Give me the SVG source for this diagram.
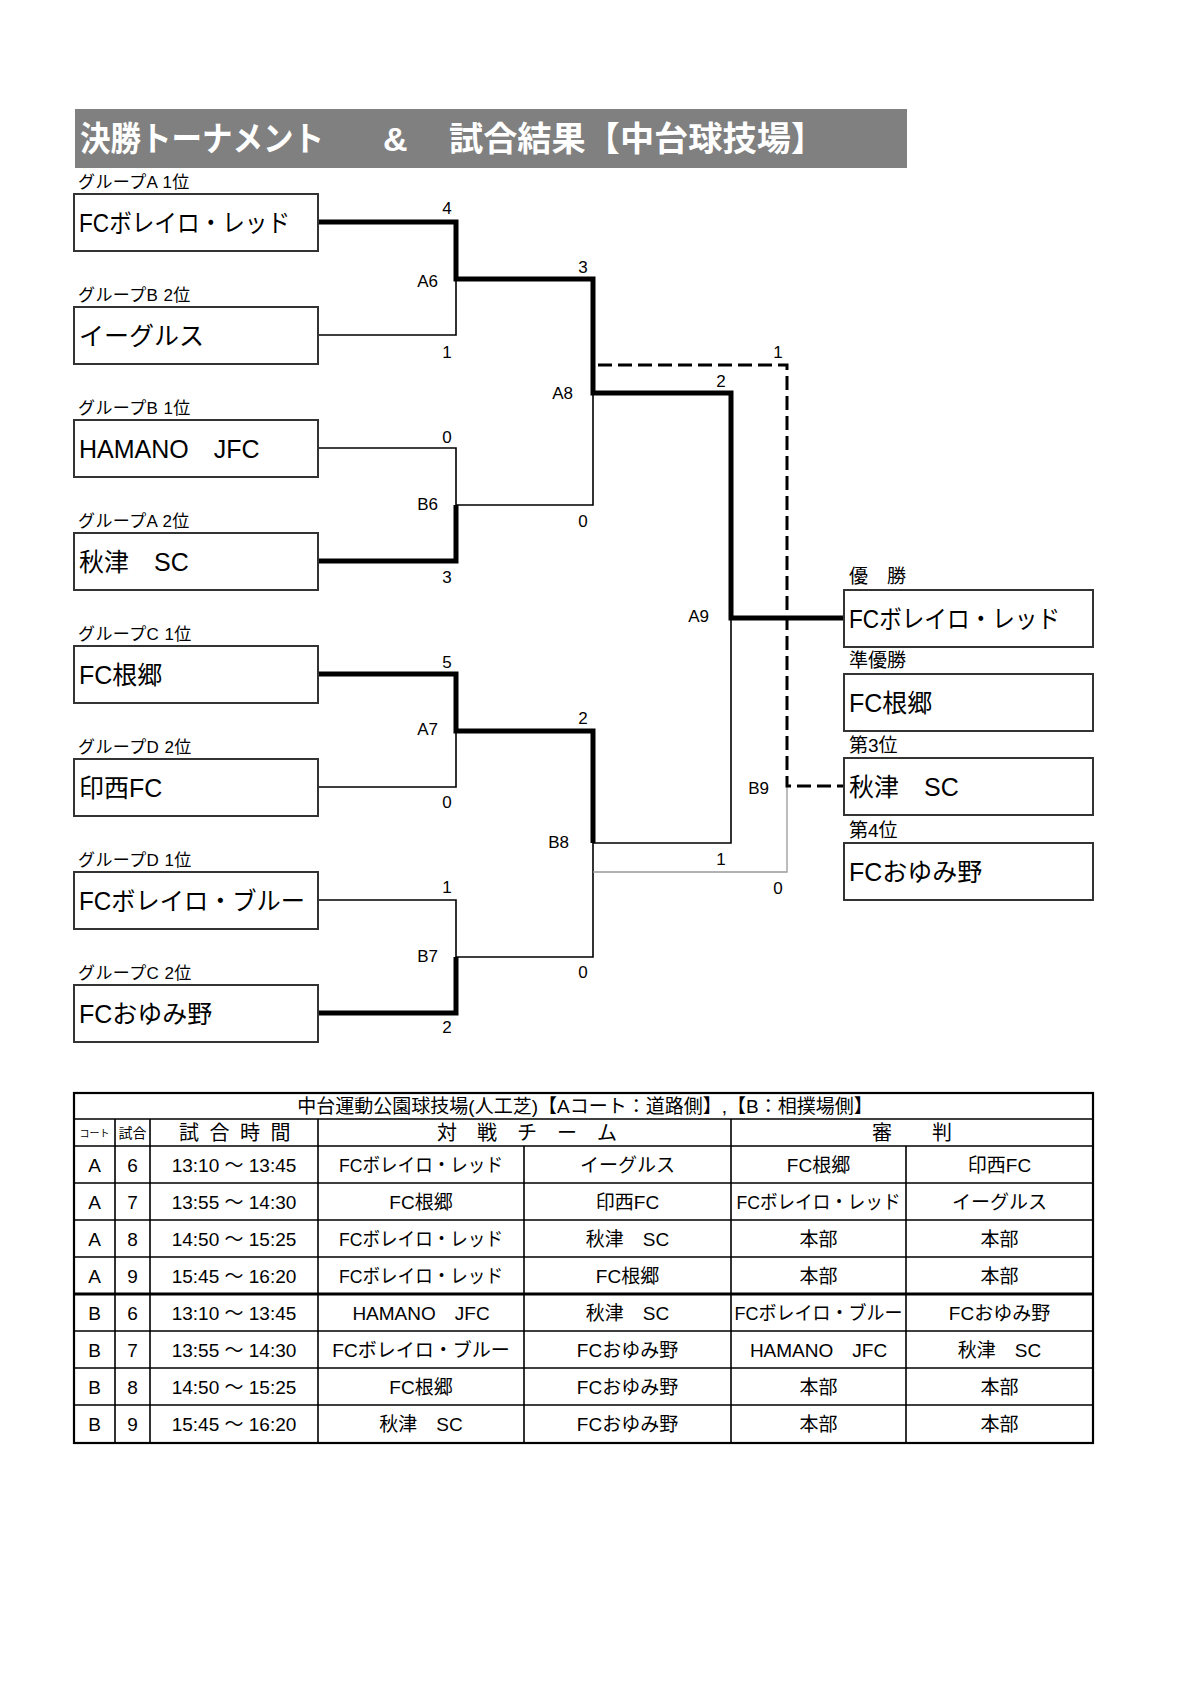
<svg xmlns="http://www.w3.org/2000/svg" width="1191" height="1684" viewBox="0 0 1191 1684">
<style>
text{font-family:"Liberation Sans","Noto Sans CJK JP",sans-serif;fill:#000}
.title{font-size:34px;font-weight:bold;fill:#fff}
.box{fill:#fff;stroke:#333;stroke-width:2}
.grp{font-size:17px;letter-spacing:0.4px}
.team{font-size:25px}
.place{font-size:19px}
.sc{font-size:17px;text-anchor:middle}
.rd{font-size:17px;text-anchor:end}
.thick{stroke:#000;stroke-width:5;fill:none;stroke-linejoin:miter}
.thin{stroke:#000;stroke-width:1.6;fill:none}
.gray{stroke:#999;stroke-width:1.3;fill:none}
.dash{stroke:#000;stroke-width:3;stroke-dasharray:14 6;fill:none}
.cell{font-size:19px;text-anchor:middle}
.tl{stroke:#000;stroke-width:1.6;fill:none}
.tb{stroke:#000;stroke-width:2.2;fill:none}
</style>
<rect width="1191" height="1684" fill="#fff"/>
<g id="title">
<rect x="75" y="109" width="832" height="59" fill="#808080"/>
<text class="title" y="151"><tspan x="80" textLength="244" lengthAdjust="spacingAndGlyphs">決勝トーナメント</tspan> <tspan x="383">&amp;</tspan> <tspan x="449" textLength="376" lengthAdjust="spacingAndGlyphs">試合結果【中台球技場】</tspan></text>
</g>

<g id="connectors">
<path class="thin" d="M318 335H456V279"/>
<path class="thin" d="M318 448H456V505"/>
<path class="thin" d="M318 787H456V731"/>
<path class="thin" d="M318 900H456V957"/>
<path class="thin" d="M456 505H593V393"/>
<path class="thin" d="M456 957H593V843"/>
<path class="thin" d="M593 843H731V618"/>
<path class="gray" d="M593 872H787V786"/>
<path class="thick" d="M318 222H456V279H593V393H731V618H844"/>
<path class="thick" d="M318 561H456V505"/>
<path class="thick" d="M318 674H456V731H593V843"/>
<path class="thick" d="M318 1013H456V957"/>
<path class="dash" d="M598 365H787V786H844"/>
</g>

<g id="scores">
<text class="sc" x="447" y="214">4</text>
<text class="sc" x="447" y="358">1</text>
<text class="rd" x="438" y="287">A6</text>
<text class="sc" x="447" y="443">0</text>
<text class="rd" x="438" y="510">B6</text>
<text class="sc" x="447" y="583">3</text>
<text class="sc" x="447" y="668">5</text>
<text class="rd" x="438" y="735">A7</text>
<text class="sc" x="447" y="808">0</text>
<text class="sc" x="447" y="893">1</text>
<text class="rd" x="438" y="962">B7</text>
<text class="sc" x="447" y="1033">2</text>
<text class="sc" x="583" y="273">3</text>
<text class="rd" x="573" y="399">A8</text>
<text class="sc" x="583" y="527">0</text>
<text class="sc" x="583" y="724">2</text>
<text class="rd" x="569" y="848">B8</text>
<text class="sc" x="583" y="978">0</text>
<text class="sc" x="721" y="387">2</text>
<text class="rd" x="709" y="622">A9</text>
<text class="sc" x="721" y="865">1</text>
<text class="sc" x="778" y="358">1</text>
<text class="rd" x="769" y="794">B9</text>
<text class="sc" x="778" y="894">0</text>
</g>

<g id="team1"><text class="grp" x="78" y="188">グループA 1位</text><rect class="box" x="74" y="194" width="244" height="57"/><text class="team" x="79" y="232" textLength="211" lengthAdjust="spacingAndGlyphs">FCボレイロ・レッド</text></g>
<g id="team2"><text class="grp" x="78" y="301">グループB 2位</text><rect class="box" x="74" y="307" width="244" height="57"/><text class="team" x="79" y="345">イーグルス</text></g>
<g id="team3"><text class="grp" x="78" y="414">グループB 1位</text><rect class="box" x="74" y="420" width="244" height="57"/><text class="team" x="79" y="458">HAMANO　JFC</text></g>
<g id="team4"><text class="grp" x="78" y="527">グループA 2位</text><rect class="box" x="74" y="533" width="244" height="57"/><text class="team" x="79" y="571">秋津　SC</text></g>
<g id="team5"><text class="grp" x="78" y="640">グループC 1位</text><rect class="box" x="74" y="646" width="244" height="57"/><text class="team" x="79" y="684">FC根郷</text></g>
<g id="team6"><text class="grp" x="78" y="753">グループD 2位</text><rect class="box" x="74" y="759" width="244" height="57"/><text class="team" x="79" y="797">印西FC</text></g>
<g id="team7"><text class="grp" x="78" y="866">グループD 1位</text><rect class="box" x="74" y="872" width="244" height="57"/><text class="team" x="79" y="910" textLength="226" lengthAdjust="spacingAndGlyphs">FCボレイロ・ブルー</text></g>
<g id="team8"><text class="grp" x="78" y="979">グループC 2位</text><rect class="box" x="74" y="985" width="244" height="57"/><text class="team" x="79" y="1023">FCおゆみ野</text></g>

<g id="place1"><text class="place" x="849" y="583">優　勝</text><rect class="box" x="844" y="590" width="249" height="57"/><text class="team" x="849" y="628" textLength="211" lengthAdjust="spacingAndGlyphs">FCボレイロ・レッド</text></g>
<g id="place2"><text class="place" x="849" y="667">準優勝</text><rect class="box" x="844" y="674" width="249" height="57"/><text class="team" x="849" y="712">FC根郷</text></g>
<g id="place3"><text class="place" x="849" y="752">第3位</text><rect class="box" x="844" y="758" width="249" height="57"/><text class="team" x="849" y="796">秋津　SC</text></g>
<g id="place4"><text class="place" x="849" y="837">第4位</text><rect class="box" x="844" y="843" width="249" height="57"/><text class="team" x="849" y="881">FCおゆみ野</text></g>

<g id="table">
<rect class="tb" x="74" y="1093" width="1019" height="350" fill="#fff"/>
<path class="tl" d="M74 1119H1093M74 1146H1093M74 1183H1093M74 1220H1093M74 1257H1093M74 1331H1093M74 1368H1093M74 1405H1093"/>
<path stroke="#000" stroke-width="3.2" d="M74 1294H1093"/>
<path class="tl" d="M115 1119V1443M150 1119V1443M318 1119V1443M731 1119V1443M524 1146V1443M906 1146V1443"/>
<text class="cell" x="585" y="1113">中台運動公園球技場(人工芝)【Aコート：道路側】,【B：相撲場側】</text>
<text class="cell" x="94.5" y="1137" style="font-size:10px">コート</text>
<text class="cell" x="132.5" y="1138" style="font-size:14px">試合</text>
<text class="cell" x="236" y="1140" style="font-size:20px;letter-spacing:2.5px">試 合 時 間</text>
<text class="cell" x="527" y="1140" style="font-size:20px">対　戦　チ　ー　ム</text>
<text class="cell" x="912" y="1140" style="font-size:20px">審　　判</text>

<g class="row">
<text class="cell" x="94.5" y="1172">A</text><text class="cell" x="132.5" y="1172">6</text><text class="cell" x="234" y="1172">13:10 ～ 13:45</text><text class="cell" x="421" y="1172" textLength="164" lengthAdjust="spacingAndGlyphs">FCボレイロ・レッド</text><text class="cell" x="627.5" y="1172">イーグルス</text><text class="cell" x="818.5" y="1172">FC根郷</text><text class="cell" x="999.5" y="1172">印西FC</text>
</g>
<g class="row">
<text class="cell" x="94.5" y="1209">A</text><text class="cell" x="132.5" y="1209">7</text><text class="cell" x="234" y="1209">13:55 ～ 14:30</text><text class="cell" x="421" y="1209">FC根郷</text><text class="cell" x="627.5" y="1209">印西FC</text><text class="cell" x="818.5" y="1209" textLength="164" lengthAdjust="spacingAndGlyphs">FCボレイロ・レッド</text><text class="cell" x="999.5" y="1209">イーグルス</text>
</g>
<g class="row">
<text class="cell" x="94.5" y="1246">A</text><text class="cell" x="132.5" y="1246">8</text><text class="cell" x="234" y="1246">14:50 ～ 15:25</text><text class="cell" x="421" y="1246" textLength="164" lengthAdjust="spacingAndGlyphs">FCボレイロ・レッド</text><text class="cell" x="627.5" y="1246">秋津　SC</text><text class="cell" x="818.5" y="1246">本部</text><text class="cell" x="999.5" y="1246">本部</text>
</g>
<g class="row">
<text class="cell" x="94.5" y="1283">A</text><text class="cell" x="132.5" y="1283">9</text><text class="cell" x="234" y="1283">15:45 ～ 16:20</text><text class="cell" x="421" y="1283" textLength="164" lengthAdjust="spacingAndGlyphs">FCボレイロ・レッド</text><text class="cell" x="627.5" y="1283">FC根郷</text><text class="cell" x="818.5" y="1283">本部</text><text class="cell" x="999.5" y="1283">本部</text>
</g>
<g class="row">
<text class="cell" x="94.5" y="1320">B</text><text class="cell" x="132.5" y="1320">6</text><text class="cell" x="234" y="1320">13:10 ～ 13:45</text><text class="cell" x="421" y="1320">HAMANO　JFC</text><text class="cell" x="627.5" y="1320">秋津　SC</text><text class="cell" x="818.5" y="1320" textLength="168" lengthAdjust="spacingAndGlyphs">FCボレイロ・ブルー</text><text class="cell" x="999.5" y="1320">FCおゆみ野</text>
</g>
<g class="row">
<text class="cell" x="94.5" y="1357">B</text><text class="cell" x="132.5" y="1357">7</text><text class="cell" x="234" y="1357">13:55 ～ 14:30</text><text class="cell" x="421" y="1357">FCボレイロ・ブルー</text><text class="cell" x="627.5" y="1357">FCおゆみ野</text><text class="cell" x="818.5" y="1357">HAMANO　JFC</text><text class="cell" x="999.5" y="1357">秋津　SC</text>
</g>
<g class="row">
<text class="cell" x="94.5" y="1394">B</text><text class="cell" x="132.5" y="1394">8</text><text class="cell" x="234" y="1394">14:50 ～ 15:25</text><text class="cell" x="421" y="1394">FC根郷</text><text class="cell" x="627.5" y="1394">FCおゆみ野</text><text class="cell" x="818.5" y="1394">本部</text><text class="cell" x="999.5" y="1394">本部</text>
</g>
<g class="row">
<text class="cell" x="94.5" y="1431">B</text><text class="cell" x="132.5" y="1431">9</text><text class="cell" x="234" y="1431">15:45 ～ 16:20</text><text class="cell" x="421" y="1431">秋津　SC</text><text class="cell" x="627.5" y="1431">FCおゆみ野</text><text class="cell" x="818.5" y="1431">本部</text><text class="cell" x="999.5" y="1431">本部</text>
</g>
</g>
</svg>
